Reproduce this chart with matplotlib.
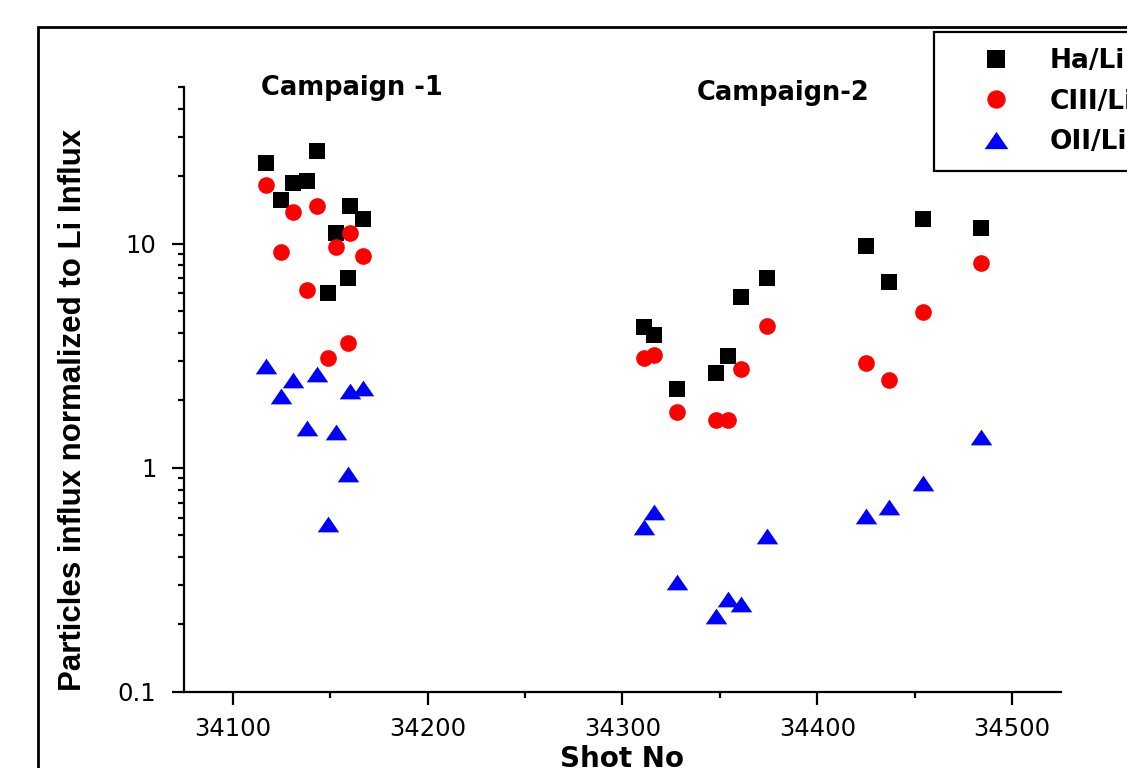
import matplotlib
matplotlib.use('Agg')
import matplotlib.pyplot as plt
from matplotlib.path import Path
from matplotlib.patches import Rectangle
from matplotlib.ticker import LogLocator, MultipleLocator, NullFormatter

# shot numbers of both campaigns
shot_no = [34117, 34125, 34131, 34138, 34143, 34149, 34153, 34159, 34160, 34167,
           34311, 34316, 34328, 34348, 34354, 34361, 34374, 34425, 34437, 34454, 34484]

# influx ratios normalised to Li
ha_li = [22.9, 15.7, 18.7, 19.0, 25.8, 6.0, 11.2, 7.0, 14.7, 12.9,
         4.25, 3.9, 2.25, 2.65, 3.17, 5.8, 7.0, 9.8, 6.75, 12.9, 11.7]
ciii_li = [18.3, 9.2, 13.8, 6.2, 14.7, 3.1, 9.7, 3.6, 11.2, 8.8,
           3.1, 3.2, 1.78, 1.63, 1.63, 2.76, 4.3, 2.93, 2.47, 4.96, 8.2]
oii_li = [2.85, 2.1, 2.47, 1.5, 2.62, 0.56, 1.45, 0.94, 2.21, 2.27,
          0.544, 0.632, 0.308, 0.218, 0.259, 0.246, 0.494, 0.607, 0.668, 0.857, 1.37]

series_labels = ['Ha/Li', 'CIII/Li', 'OII/Li']
x_ticks = [34100, 34200, 34300, 34400, 34500]
y_ticks = [0.1, 1, 10]
y_tick_labels = ['0.1', '1', '10']

# wide, flat triangle like the Origin marker
tri = Path([(-1, -0.73), (1, -0.73), (0, 0.73), (-1, -0.73)],
           [Path.MOVETO, Path.LINETO, Path.LINETO, Path.CLOSEPOLY])

fig = plt.figure(figsize=(11.27, 7.68), dpi=100)
ax = fig.add_axes([0.1633, 0.0990, 0.7781, 0.7877])

ax.plot(shot_no, ha_li, ls='none', marker='s', ms=11.5, color='black', mew=0, label=series_labels[0])
ax.plot(shot_no, ciii_li, ls='none', marker='o', ms=12, color='red', mew=0, label=series_labels[1])
ax.plot(shot_no, oii_li, ls='none', marker=tri, ms=15.5, color='blue', mew=0, label=series_labels[2])

ax.set_yscale('log')
ax.set_xlim(34075, 34525)
ax.set_ylim(0.1, 50)

ax.spines['top'].set_visible(False)
ax.spines['right'].set_visible(False)
for s in ['left', 'bottom']:
    ax.spines[s].set_linewidth(1.6)

ax.set_xticks(x_ticks)
ax.set_xticklabels([str(v) for v in x_ticks])
ax.xaxis.set_minor_locator(MultipleLocator(50))
ax.set_yticks(y_ticks)
ax.set_yticklabels(y_tick_labels)
ax.yaxis.set_minor_locator(LogLocator(base=10, subs=range(2, 10)))
ax.yaxis.set_minor_formatter(NullFormatter())

ax.tick_params(which='major', direction='out', length=9, width=1.6, labelsize=17.5)
ax.tick_params(which='minor', direction='out', length=4.5, width=1.6)
ax.tick_params(axis='x', which='major', pad=9)
ax.tick_params(axis='y', which='major', pad=11)

ax.set_xlabel('Shot No', fontsize=20, fontweight='bold', labelpad=3)
ax.set_ylabel('Particles influx normalized to Li Influx', fontsize=22.5,
              fontweight='bold', family='Liberation Sans')
ax.yaxis.set_label_coords(-0.11, 0.466)

fig.text(352 / 1127, 1 - 88 / 768, 'Campaign -1', fontsize=18.5, fontweight='bold',
         ha='center', va='center')
fig.text(783 / 1127, 1 - 93 / 768, 'Campaign-2', fontsize=18.5, fontweight='bold',
         ha='center', va='center')

leg = ax.legend(loc='upper left', bbox_to_anchor=(934 / 1127, 1 - 32 / 768),
                bbox_transform=fig.transFigure, borderaxespad=0, fancybox=False,
                framealpha=1, edgecolor='black', prop={'size': 19, 'weight': 'bold'},
                handlelength=3.5, handletextpad=0.3, labelspacing=0.56, borderpad=0.6,
                markerscale=1.1)
leg.get_frame().set_linewidth(1.6)

# outer frame of the original figure (cut off at the right and bottom)
frame = Rectangle((38 / 1127, -0.1), 1.2, 1 - 27 / 768 + 0.1, transform=fig.transFigure,
                  fill=False, lw=2, edgecolor='black', clip_on=False)
fig.patches.append(frame)

fig.savefig('out.png', dpi=100)
